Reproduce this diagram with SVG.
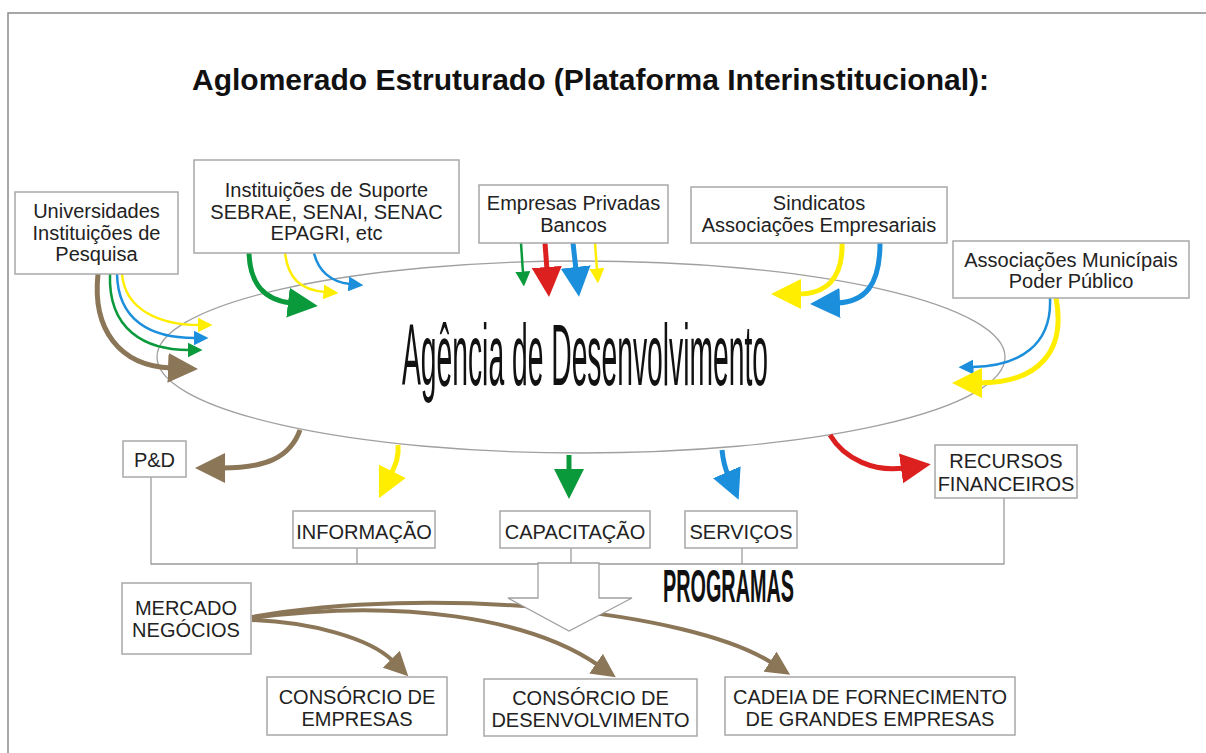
<svg xmlns="http://www.w3.org/2000/svg" width="1206" height="753" viewBox="0 0 1206 753">
<style>
.box{fill:#fff;stroke:#a8a8a8;stroke-width:1.5}
.t{font-family:"Liberation Sans",Arial,sans-serif;font-size:20px;fill:#222;text-anchor:middle}
.conn{fill:none;stroke:#9c9c9c;stroke-width:1.3}
.a{fill:none}
.y{stroke:#ffee00}.g{stroke:#0a9a3c}.b{stroke:#1b8fdc}.r{stroke:#dc2020}.br{stroke:#8b7658}
.th{stroke-width:2.5}.tk{stroke-width:5}.md{stroke-width:4}
</style>
<defs>
<marker id="my" viewBox="0 0 10 10" refX="1" refY="5" markerWidth="6" markerHeight="6" orient="auto"><path d="M0,0 L10,5 L0,10 z" fill="#ffee00"/></marker>
<marker id="mg" viewBox="0 0 10 10" refX="1" refY="5" markerWidth="6" markerHeight="6" orient="auto"><path d="M0,0 L10,5 L0,10 z" fill="#0a9a3c"/></marker>
<marker id="mb" viewBox="0 0 10 10" refX="1" refY="5" markerWidth="6" markerHeight="6" orient="auto"><path d="M0,0 L10,5 L0,10 z" fill="#1b8fdc"/></marker>
<marker id="mr" viewBox="0 0 10 10" refX="1" refY="5" markerWidth="6" markerHeight="6" orient="auto"><path d="M0,0 L10,5 L0,10 z" fill="#dc2020"/></marker>
<marker id="mbr" viewBox="0 0 10 10" refX="1" refY="5" markerWidth="6" markerHeight="6" orient="auto"><path d="M0,0 L10,5 L0,10 z" fill="#8b7658"/></marker>
</defs>
<rect width="1206" height="753" fill="#fff"/>
<g id="frame" fill="none" stroke="#8a8a8a" stroke-width="1.5">
<path d="M8,753 V13 H1206"/>
</g>
<text id="title" x="192" y="90" font-family="'Liberation Sans',Arial,sans-serif" font-size="29" font-weight="bold" fill="#111" textLength="797" lengthAdjust="spacingAndGlyphs">Aglomerado Estruturado (Plataforma Interinstitucional):</text>

<g id="agencia">
<ellipse cx="581" cy="357" rx="424" ry="96" fill="none" stroke="#a0a0a0" stroke-width="1.3"/>
<text transform="translate(402,385) scale(1,2.93)" x="0" y="0" font-family="'Liberation Sans',Arial,sans-serif" font-size="30" fill="#111" textLength="366" lengthAdjust="spacingAndGlyphs">Agência de Desenvolvimento</text>
</g>

<g id="connectors">
<path class="conn" d="M151,477 V564 H1004 V498"/>
<path class="conn" d="M357,548 V564"/>
<path class="conn" d="M571,548 V564"/>
<path class="conn" d="M742,548 V564"/>
<!-- Universidades -->
<path class="a y th" d="M122,274 C125,310 160,325 199,325" marker-end="url(#my)"/>
<path class="a b th" d="M117,274 C118,320 150,338 195,338" marker-end="url(#mb)"/>
<path class="a g th" d="M110,274 C108,330 145,350 189,350" marker-end="url(#mg)"/>
<path class="a br tk" d="M98,274 C92,330 120,366 171,368" marker-end="url(#mbr)"/>
<!-- Instituições de Suporte -->
<path class="a g tk" d="M249,253 C250,285 265,300 291,303" marker-end="url(#mg)"/>
<path class="a y th" d="M285,253 C288,278 300,290 325,292" marker-end="url(#my)"/>
<path class="a b th" d="M314,253 C318,270 330,282 350,284" marker-end="url(#mb)"/>
<!-- Empresas Privadas -->
<path class="a g th" d="M521,243 L523,273" marker-end="url(#mg)"/>
<path class="a r tk" d="M545,243 L547,270" marker-end="url(#mr)"/>
<path class="a b tk" d="M573,243 L576,270" marker-end="url(#mb)"/>
<path class="a y th" d="M595,243 L597,270" marker-end="url(#my)"/>
<!-- Sindicatos -->
<path class="a y tk" d="M842,243 C843,280 825,294 798,294" marker-end="url(#my)"/>
<path class="a b tk" d="M880,243 C880,285 865,302 837,303" marker-end="url(#mb)"/>
<!-- Associações Municipais -->
<path class="a b th" d="M1050,298 C1052,345 1020,366 972,367" marker-end="url(#mb)"/>
<path class="a y tk" d="M1056,298 C1066,350 1040,383 979,383" marker-end="url(#my)"/>
<!-- from Agência -->
<path class="a br tk" d="M300,430 C290,458 265,468 222,468" marker-end="url(#mbr)"/>
<path class="a y tk" d="M398,445 C399,456 396,464 391,474" marker-end="url(#my)"/>
<path class="a g tk" d="M569,455 L569,472" marker-end="url(#mg)"/>
<path class="a b tk" d="M722,450 C723,460 725,468 728,475" marker-end="url(#mb)"/>
<path class="a r tk" d="M830,435 C845,460 875,472 904,468" marker-end="url(#mr)"/>
<!-- Mercado -->
<path class="a br md" d="M252,620 C310,622 370,638 393,661" marker-end="url(#mbr)"/>
<path class="a br md" d="M252,618 C400,598 530,618 598,665" marker-end="url(#mbr)"/>
<path class="a br md" d="M252,617 C430,585 690,610 772,663" marker-end="url(#mbr)"/>
</g>

<g id="programas">
<polygon points="538,563 599,563 599,598 632,598 569,631 508,598 538,598" fill="#fff" stroke="#a0a0a0" stroke-width="1.3"/>
<text transform="translate(663,602) scale(1,2.35)" x="0" y="0" font-family="'Liberation Sans',Arial,sans-serif" font-size="20" font-weight="bold" fill="#111" textLength="131" lengthAdjust="spacingAndGlyphs">PROGRAMAS</text>
</g>

<g id="universidades">
<rect class="box" x="15" y="192" width="163" height="82"/>
<text class="t" x="96.5" y="218">Universidades</text>
<text class="t" x="96.5" y="239.5">Instituições de</text>
<text class="t" x="96.5" y="261">Pesquisa</text>
</g>
<g id="suporte">
<rect class="box" x="194" y="160" width="265" height="93"/>
<text class="t" x="326.5" y="197">Instituições de Suporte</text>
<text class="t" x="326.5" y="218.5">SEBRAE, SENAI, SENAC</text>
<text class="t" x="326.5" y="240">EPAGRI, etc</text>
</g>
<g id="empresas">
<rect class="box" x="479" y="185" width="189" height="58"/>
<text class="t" x="573.5" y="210">Empresas Privadas</text>
<text class="t" x="573.5" y="232">Bancos</text>
</g>
<g id="sindicatos">
<rect class="box" x="691" y="187" width="256" height="56"/>
<text class="t" x="819" y="210">Sindicatos</text>
<text class="t" x="819" y="232">Associações Empresariais</text>
</g>
<g id="municipais">
<rect class="box" x="953" y="241" width="236" height="57"/>
<text class="t" x="1071" y="267">Associações Municípais</text>
<text class="t" x="1071" y="288">Poder Público</text>
</g>
<g id="pd">
<rect class="box" x="123" y="441" width="63" height="36"/>
<text class="t" x="154.5" y="467">P&amp;D</text>
</g>
<g id="informacao">
<rect class="box" x="293" y="511" width="142" height="37"/>
<text class="t" x="364" y="539">INFORMAÇÃO</text>
</g>
<g id="capacitacao">
<rect class="box" x="500" y="511" width="150" height="37"/>
<text class="t" x="575" y="539">CAPACITAÇÃO</text>
</g>
<g id="servicos">
<rect class="box" x="685" y="511" width="112" height="37"/>
<text class="t" x="741" y="539">SERVIÇOS</text>
</g>
<g id="recursos">
<rect class="box" x="935" y="445" width="142" height="53"/>
<text class="t" x="1006" y="468">RECURSOS</text>
<text class="t" x="1006" y="491">FINANCEIROS</text>
</g>
<g id="mercado">
<rect class="box" x="122" y="583" width="129" height="71"/>
<text class="t" x="186" y="615">MERCADO</text>
<text class="t" x="186" y="637">NEGÓCIOS</text>
</g>
<g id="consorcio-empresas">
<rect class="box" x="267" y="677" width="180" height="58"/>
<text class="t" x="357" y="704">CONSÓRCIO DE</text>
<text class="t" x="357" y="726">EMPRESAS</text>
</g>
<g id="consorcio-desenvolvimento">
<rect class="box" x="484" y="679" width="213" height="57"/>
<text class="t" x="590.5" y="705">CONSÓRCIO DE</text>
<text class="t" x="590.5" y="727">DESENVOLVIMENTO</text>
</g>
<g id="cadeia">
<rect class="box" x="725" y="677" width="290" height="58"/>
<text class="t" x="870" y="704">CADEIA DE FORNECIMENTO</text>
<text class="t" x="870" y="726">DE GRANDES EMPRESAS</text>
</g>
</svg>
